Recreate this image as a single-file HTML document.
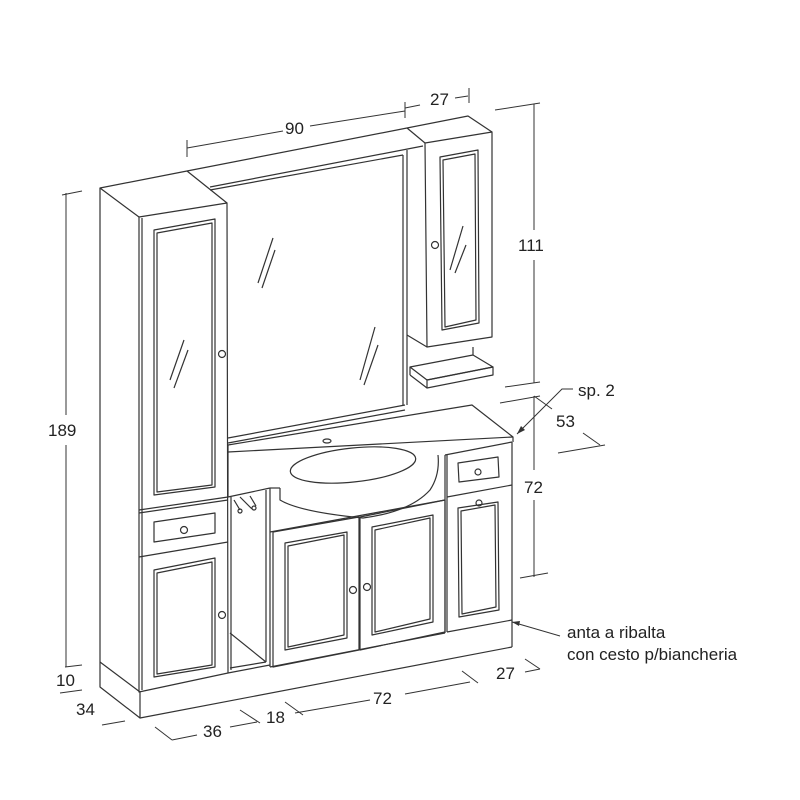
<!DOCTYPE html>
<html><head><meta charset="utf-8"><style>
html,body{margin:0;padding:0;background:#fff;}
svg{display:block}
text{font-family:"Liberation Sans","DejaVu Sans",sans-serif;fill:#222;font-size:17px}
</style></head><body>
<svg width="800" height="800" viewBox="0 0 800 800" xmlns="http://www.w3.org/2000/svg">
<g fill="none" stroke="#333" stroke-width="1.2" stroke-linejoin="round">
<!-- top beam -->
<polyline points="139,217 100,188 187,171 407,128 468,116 492,132"/>
<line x1="187" y1="171" x2="227" y2="203"/>
<line x1="407" y1="128" x2="425" y2="143"/>
<line x1="210" y1="187" x2="423" y2="146"/>
<line x1="210" y1="190" x2="403" y2="155"/>
<!-- left tall cabinet -->
<polyline points="100,188 100,687 140,718 140,692"/>
<line x1="100" y1="662" x2="140" y2="692"/>
<polygon points="139,217 227,203 228,673 139,692"/>
<polyline points="142,218 142,690"/>
<polygon points="154,230 215,219 215,487 154,495"/>
<polygon points="157,233 212,223 212,485 157,492"/>
<line x1="139" y1="510" x2="228" y2="497"/>
<line x1="139" y1="513" x2="228" y2="500"/>
<polygon points="154,522 215,513 215,533 154,542"/>
<line x1="139" y1="557" x2="228" y2="542"/>
<polygon points="154,570 215,558 215,667 154,677"/>
<polygon points="157,573 212,562 212,665 157,674"/>
<circle cx="184" cy="530" r="3.5"/><circle cx="222" cy="354" r="3.5"/><circle cx="222" cy="615" r="3.5"/>
<!-- glass marks -->
<line x1="170" y1="380" x2="184" y2="340"/><line x1="174" y1="388" x2="188" y2="350"/>
<line x1="258" y1="283" x2="273" y2="238"/><line x1="262" y1="288" x2="275" y2="250"/>
<line x1="360" y1="380" x2="375" y2="327"/><line x1="364" y1="385" x2="378" y2="345"/>
<line x1="450" y1="270" x2="463" y2="226"/><line x1="455" y1="273" x2="466" y2="245"/>
<!-- mirror -->
<line x1="403" y1="155" x2="403" y2="405"/>
<line x1="407" y1="150" x2="407" y2="405"/>
<line x1="228" y1="438" x2="405" y2="405"/>
<line x1="228" y1="443" x2="405" y2="410"/>
<!-- right upper cabinet -->
<polygon points="425,143 492,132 492,337 427,347"/>
<polygon points="440,157 478,150 479,323 442,330"/>
<polygon points="443,160 475,154 476,320 445,327"/>
<line x1="407" y1="335" x2="427" y2="347"/>
<circle cx="435" cy="245" r="3.5"/>
<!-- shelf -->
<polygon points="410,367 473,355 493,367 427,380"/>
<polygon points="427,380 493,367 493,375 427,388"/>
<line x1="410" y1="367" x2="410" y2="375"/><line x1="410" y1="375" x2="427" y2="388"/>
<line x1="473" y1="347" x2="473" y2="355"/>
<!-- counter -->
<polyline points="228,445 472,405 513,437 513,442"/>
<line x1="228" y1="452" x2="513" y2="437"/>
<line x1="228" y1="445" x2="228" y2="497"/>
<ellipse cx="327" cy="441" rx="4" ry="2"/>
<ellipse cx="353" cy="465" rx="63" ry="17" transform="rotate(-6 353 465)"/>
<path d="M280,488 L280,500 Q300,512 363,518 Q410,512 430,490 Q440,475 438,455"/>
<line x1="270" y1="488" x2="280" y2="488"/>
<!-- open section -->
<line x1="228" y1="497" x2="270" y2="488"/>
<line x1="270" y1="488" x2="270" y2="667"/><line x1="266" y1="490" x2="266" y2="662"/>
<line x1="228" y1="673" x2="270" y2="665"/><line x1="230" y1="668" x2="266" y2="662"/>
<line x1="230" y1="633" x2="266" y2="662"/>
<line x1="231" y1="497" x2="231" y2="670"/>
<path d="M234,500 L240,510 M240,497 L252,509 M250,496 L256,506"/>
<circle cx="240" cy="511" r="2"/><circle cx="254" cy="508" r="2"/>
<!-- middle cabinet -->
<line x1="270" y1="532" x2="445" y2="500"/>
<line x1="270" y1="667" x2="445" y2="633"/>
<polygon points="273,532 359,517 359,650 273,667"/>
<polygon points="285,543 347,532 347,638 285,650"/>
<polygon points="288,546 344,535 344,635 288,647"/>
<polygon points="360,517 445,500 445,632 360,650"/>
<polygon points="372,527 433,515 433,622 372,635"/>
<polygon points="375,530 430,518 430,619 375,632"/>
<circle cx="353" cy="590" r="3.5"/><circle cx="367" cy="587" r="3.5"/>
<!-- right cabinet -->
<line x1="445" y1="455" x2="445" y2="633"/><line x1="447" y1="455" x2="447" y2="632"/>
<line x1="512" y1="442" x2="512" y2="647"/>
<line x1="445" y1="455" x2="512" y2="442"/>
<polygon points="458,463 498,457 499,477 459,482"/>
<line x1="447" y1="497" x2="512" y2="485"/>
<polygon points="458,508 498,502 499,610 459,617"/>
<polygon points="461,511 495,505 496,607 462,614"/>
<line x1="447" y1="632" x2="512" y2="620"/>
<circle cx="478" cy="472" r="3"/><circle cx="479" cy="503" r="3"/>
<!-- base -->
<line x1="140" y1="718" x2="512" y2="647"/>
</g>
<!-- dimensions -->
<g fill="none" stroke="#333" stroke-width="1">
<line x1="187" y1="148" x2="283" y2="131"/><line x1="310" y1="126" x2="405" y2="111"/>
<line x1="187" y1="140" x2="187" y2="157"/><line x1="405" y1="102" x2="405" y2="118"/>
<line x1="455" y1="98" x2="468" y2="96"/><line x1="469" y1="88" x2="469" y2="103"/>
<line x1="405" y1="108" x2="420" y2="105"/>
<line x1="495" y1="110" x2="540" y2="103"/><line x1="534" y1="104" x2="534" y2="230"/>
<line x1="534" y1="260" x2="534" y2="383"/><line x1="505" y1="387" x2="540" y2="382"/>
<line x1="500" y1="403" x2="540" y2="396"/><line x1="534" y1="396" x2="534" y2="470"/>
<line x1="534" y1="500" x2="534" y2="577"/><line x1="520" y1="578" x2="548" y2="573"/>
<line x1="534" y1="396" x2="552" y2="409"/>
<polyline points="573,389 562,389 517,434"/>
<line x1="583" y1="433" x2="600" y2="445"/><line x1="558" y1="453" x2="605" y2="445"/>
<line x1="512" y1="622" x2="560" y2="636"/>
<line x1="66" y1="193" x2="66" y2="415"/><line x1="66" y1="445" x2="66" y2="667"/>
<line x1="62" y1="195" x2="82" y2="191"/><line x1="65" y1="667" x2="82" y2="665"/>
<line x1="60" y1="693" x2="82" y2="690"/>
<line x1="102" y1="725" x2="125" y2="721"/>
<line x1="155" y1="727" x2="172" y2="740"/><line x1="172" y1="740" x2="197" y2="735"/>
<line x1="230" y1="727" x2="257" y2="722"/><line x1="240" y1="710" x2="260" y2="723"/>
<line x1="285" y1="702" x2="303" y2="715"/><line x1="295" y1="713" x2="370" y2="700"/>
<line x1="405" y1="694" x2="470" y2="682"/><line x1="462" y1="671" x2="478" y2="683"/>
<line x1="525" y1="659" x2="540" y2="669"/><line x1="525" y1="672" x2="540" y2="669"/>
</g>
<polygon points="517,434 521,426 525,430" fill="#333"/>
<polygon points="512,622 520,621 519,626" fill="#333"/>
<text x="285" y="134">90</text>
<text x="430" y="105">27</text>
<text x="518" y="251">111</text>
<text x="578" y="396">sp. 2</text>
<text x="556" y="427">53</text>
<text x="524" y="493">72</text>
<text x="48" y="436">189</text>
<text x="56" y="686">10</text>
<text x="76" y="715">34</text>
<text x="203" y="737">36</text>
<text x="266" y="723">18</text>
<text x="373" y="704">72</text>
<text x="496" y="679">27</text>
<text x="567" y="638">anta a ribalta</text>
<text x="567" y="660">con cesto p/biancheria</text>
</svg>
</body></html>
